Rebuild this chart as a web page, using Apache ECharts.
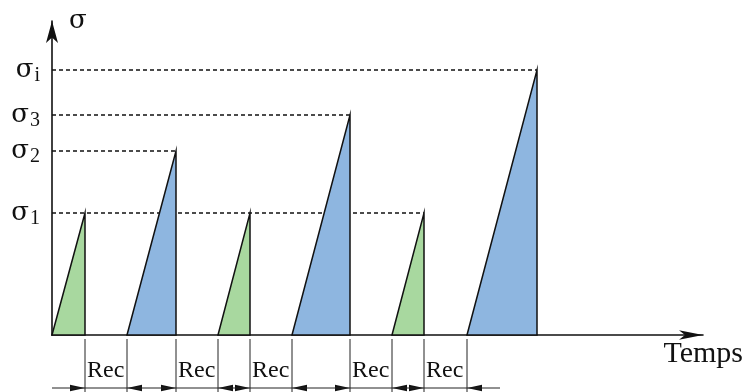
<!DOCTYPE html>
<html>
<head>
<meta charset="utf-8">
<script src="https://cdn.jsdelivr.net/npm/echarts@6/dist/echarts.min.js"></script>
<style>
html,body{margin:0;padding:0;background:#fff;}
#chart{width:746px;height:392px;}
</style>
</head>
<body>
<div id="chart"></div>
<script>
// ---- data ----
const levelSubs = ['1', '2', '3', 'i'];          // σ level names (subscripts)
const levelValues = [122, 184, 220, 265];       // σ1, σ2, σ3, σi
const loadStart = [0, 75, 166, 240, 340, 415];  // loading start times
const loadPeak = [33, 124, 198, 298, 372, 485]; // loading end (peak) times
const peakLevel = [0, 1, 0, 2, 0, 3];           // index into levelValues
const recLabel = 'Rec';
const xName = 'Temps';
const yName = 'σ';

// ---- derived ----
const triData = loadStart.map((s, i) => [s, loadPeak[i], levelValues[peakLevel[i]], peakLevel[i]]);
const dashData = levelValues.map((v, li) => {
  let t = 0;
  peakLevel.forEach((l, i) => { if (l === li) t = Math.max(t, loadPeak[i]); });
  return [t, v];
});
const dimData = loadStart.map((s, i) => [s, loadPeak[i], i > 0 ? loadPeak[i - 1] : 0, i]);

const GREEN = '#a8d89f', BLUE = '#8eb6e0', INK = '#111';
const SERIF = '"Liberation Serif","DejaVu Serif",serif';
const SIGMA = '"DejaVu Serif","Liberation Serif",serif';

const chart = echarts.init(document.getElementById('chart'), null, {renderer: 'canvas'});

function arrowHead(x, y, dir) {
  const L = 15, W = 3.2;
  return {type: 'polygon', shape: {points: [[x, y], [x - dir * L, y - W], [x - dir * L, y + W]]},
    style: {fill: INK}};
}

chart.setOption({
  animation: false,
  backgroundColor: '#fff',
  grid: {left: 52, right: 43, top: 21, bottom: 57, containLabel: false, outerBoundsMode: 'none'},
  xAxis: {
    type: 'value', min: 0, max: 651,
    splitLine: {show: false}, axisTick: {show: false}, axisLabel: {show: false},
    axisLine: {show: true, lineStyle: {color: INK, width: 1.6}, symbol: ['none', 'arrow'], symbolSize: [7, 24]},
    name: xName, nameLocation: 'end', nameGap: 40,
    nameTextStyle: {fontFamily: SERIF, fontSize: 30, color: INK, align: 'right', verticalAlign: 'top', padding: [4, 0, 0, 0]}
  },
  yAxis: {
    type: 'value', min: 0, max: 314,
    splitLine: {show: false}, axisTick: {show: false},
    axisLine: {show: true, lineStyle: {color: INK, width: 1.6}, symbol: ['none', 'arrow'], symbolSize: [9, 22]},
    axisLabel: {
      show: true, customValues: levelValues, margin: 12,
      formatter: function (v) {
        const i = levelValues.indexOf(v);
        return '{s|σ}{b|' + levelSubs[i] + '}';
      },
      rich: {
        s: {fontFamily: SIGMA, fontSize: 26, color: INK},
        b: {fontFamily: SERIF, fontSize: 20, color: INK, padding: [12, 0, 0, 1]}
      }
    },
    name: yName, nameLocation: 'end', nameGap: 0,
    nameTextStyle: {fontFamily: SIGMA, fontSize: 26, color: INK, align: 'left', verticalAlign: 'middle', padding: [0, 0, 4, 17]}
  },
  series: [
    {
      type: 'custom', clip: false, silent: true,
      data: dashData,
      renderItem: function (params, api) {
        const a = api.coord([0, api.value(1)]);
        const b = api.coord([api.value(0), api.value(1)]);
        return {type: 'line', shape: {x1: a[0], y1: a[1], x2: b[0], y2: b[1]},
          style: {stroke: '#111', lineWidth: 1.3, lineDash: [4, 3]}};
      },
      z: 1
    },
    {
      type: 'custom', clip: false, silent: true,
      data: triData,
      renderItem: function (params, api) {
        const s = api.coord([api.value(0), 0]);
        const p = api.coord([api.value(1), api.value(2)]);
        const b = api.coord([api.value(1), 0]);
        const fill = api.value(3) === 0 ? GREEN : BLUE;
        return {type: 'polygon', shape: {points: [s, p, b]},
          style: {fill: fill, stroke: INK, lineWidth: 1.5, lineJoin: 'miter'}};
      },
      z: 2
    },
    {
      type: 'custom', clip: false, silent: true,
      data: dimData,
      renderItem: function (params, api) {
        const i = api.value(3);
        const last = i === loadStart.length - 1;
        const s = api.coord([api.value(0), 0]);
        const p = api.coord([api.value(1), 0]);
        const prev = api.coord([api.value(2), 0]);
        const y0 = s[1];
        const yTop = y0 + 4, yBot = y0 + 60, yDim = y0 + 53;
        const children = [];
        const lineStyle = {stroke: '#222', lineWidth: 1};
        if (api.value(0) > 0) {
          children.push({type: 'line', shape: {x1: s[0], y1: yTop, x2: s[0], y2: yBot}, style: lineStyle});
          children.push(arrowHead(s[0], yDim, -1));
        }
        let xEnd = p[0];
        if (!last) {
          children.push({type: 'line', shape: {x1: p[0], y1: yTop, x2: p[0], y2: yBot}, style: lineStyle});
          children.push(arrowHead(p[0], yDim, 1));
        } else {
          xEnd = s[0] + 33;
        }
        children.push({type: 'line', shape: {x1: prev[0], y1: yDim, x2: xEnd, y2: yDim}, style: lineStyle});
        if (i > 0) {
          children.push({type: 'text', x: prev[0] + 2, y: y0 + 48,
            style: {text: recLabel, fontFamily: SERIF, fontSize: 24, fill: INK, align: 'left', verticalAlign: 'bottom'}});
        }
        return {type: 'group', children: children};
      },
      z: 3
    }
  ]
});
</script>
</body>
</html>
